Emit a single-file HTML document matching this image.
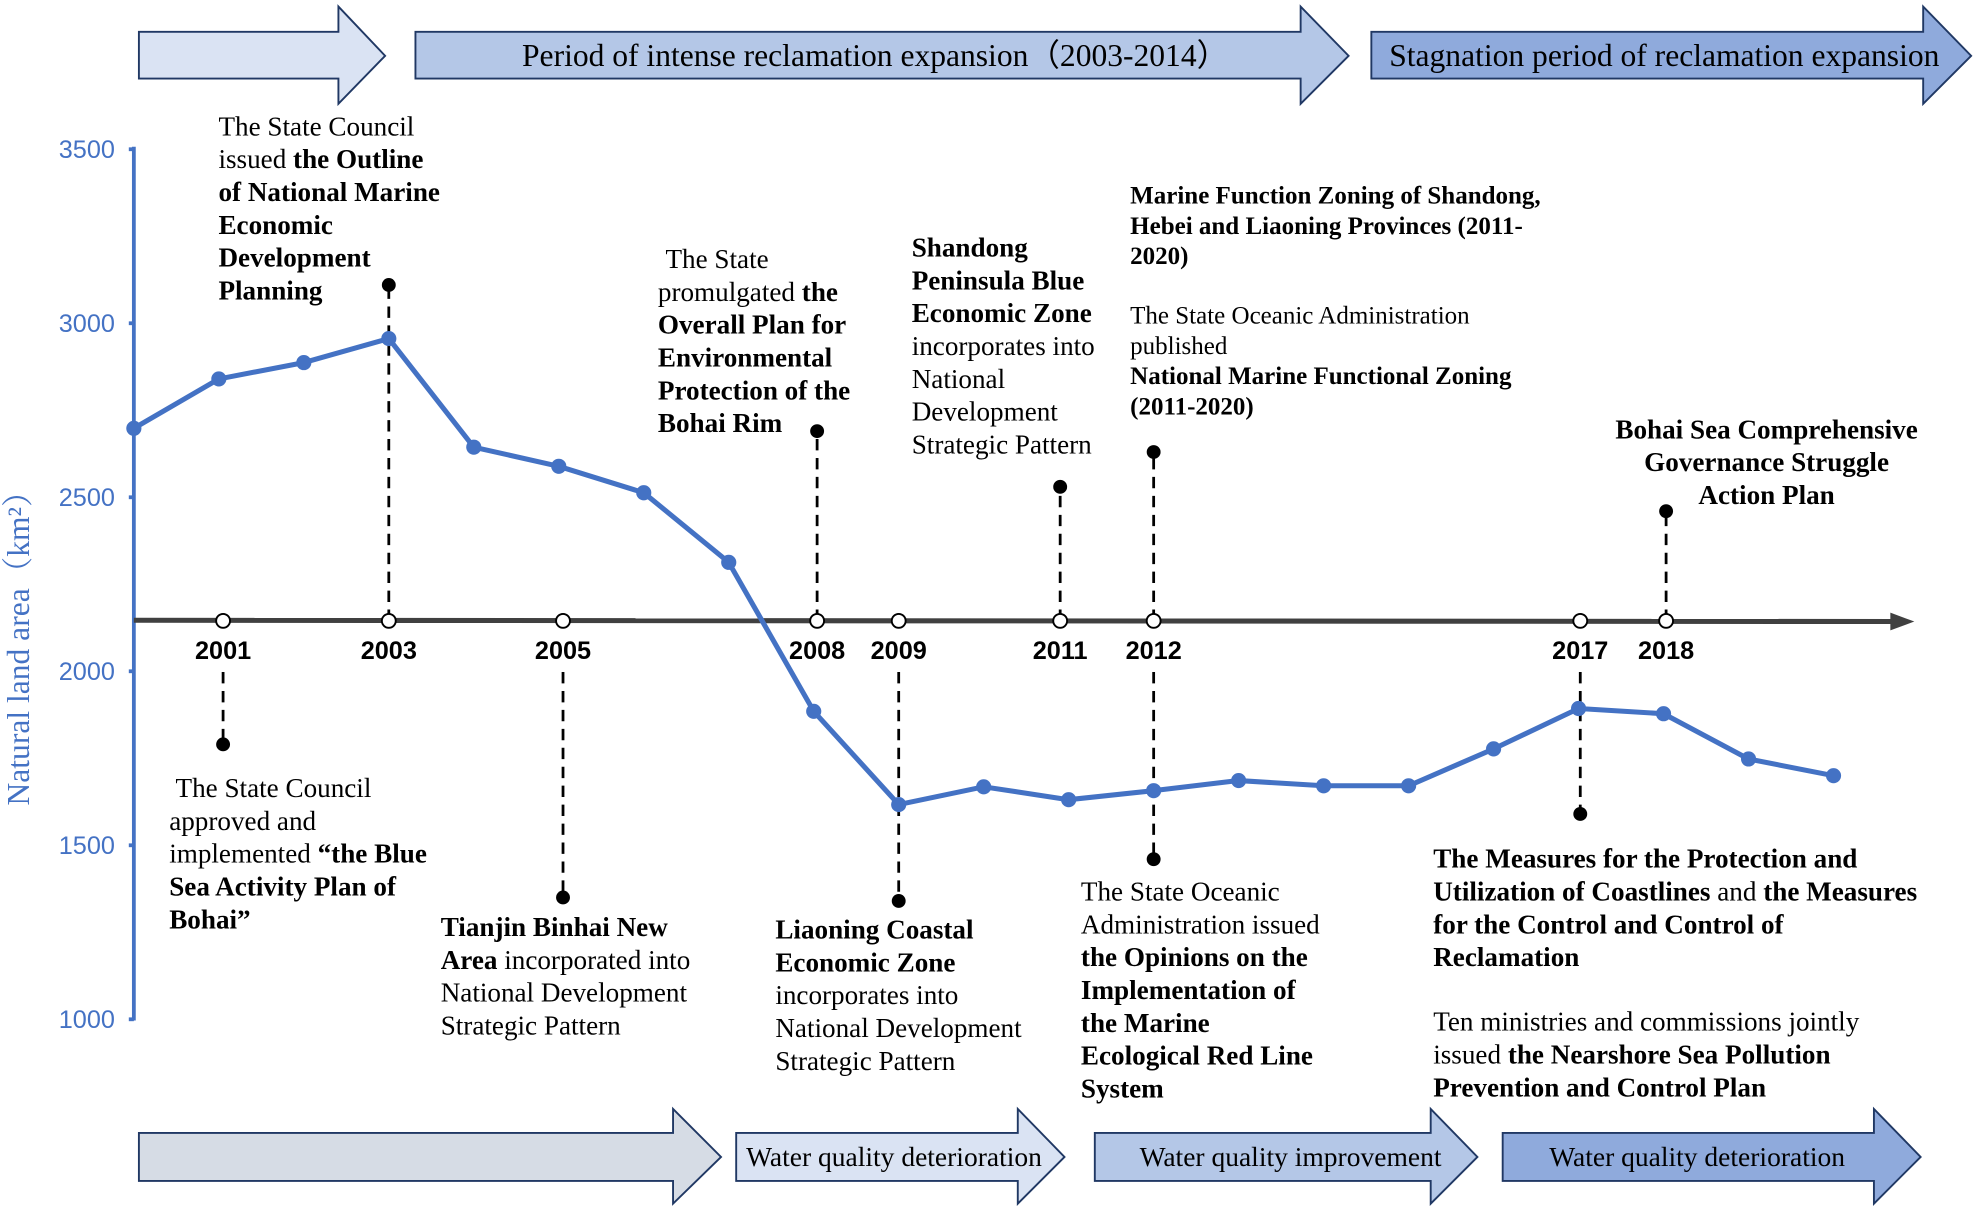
<!DOCTYPE html>
<html><head><meta charset="utf-8"><style>
html,body{margin:0;padding:0;background:#fff}
svg{display:block}
.t{font-family:"Liberation Serif",serif;font-size:21.5px;fill:#000}
.b{font-weight:bold}
.yr{font-family:"Liberation Sans",sans-serif;font-size:20px;font-weight:bold;fill:#000;text-anchor:middle}
.yt{font-family:"Liberation Sans",sans-serif;font-size:20px;fill:#4472c4;text-anchor:end}
.ar{font-family:"Liberation Serif",serif;font-size:25px;fill:#000;text-anchor:middle}
</style></head><body>
<svg id="chart" width="1980" height="1214" viewBox="0 0 1568 961" xmlns="http://www.w3.org/2000/svg">
<g stroke="#203864" stroke-width="1.5">
<path d="M110,25H268V5L305,44L268,82V62H110Z" fill="#dae3f3"/>
<path d="M329,25H1030V5L1068,44L1030,82V62H329Z" fill="#b4c7e7"/>
<path d="M1086,25H1523V5L1561,44L1523,82V62H1086Z" fill="#8faadc"/>
</g>
<text class="ar" x="693" y="52">Period of intense reclamation expansion（2003-2014）</text>
<text class="ar" x="1318" y="52">Stagnation period of reclamation expansion</text>
<g stroke="#203864" stroke-width="1.5">
<path d="M110,897H533V878L571,916L533,953V935H110Z" fill="#d6dce5"/>
<path d="M583,897H806V878L843,916L806,953V935H583Z" fill="#dae3f3"/>
<path d="M867,897H1133V878L1170,916L1133,953V935H867Z" fill="#b4c7e7"/>
<path d="M1190,897H1484V878L1521,916L1484,953V935H1190Z" fill="#8faadc"/>
</g>
<text class="ar" style="font-size:21.8px" x="708" y="923">Water quality deterioration</text>
<text class="ar" style="font-size:21.8px" x="1022" y="923">Water quality improvement</text>
<text class="ar" style="font-size:21.8px" x="1344" y="923">Water quality deterioration</text>

<g>
<line x1="106" y1="116" x2="106" y2="808" stroke="#4472c4" stroke-width="3"/>
<g id="yticks"></g>
<text transform="translate(23,507) rotate(-90)" text-anchor="middle" style="font-family:'Liberation Serif','Noto Serif CJK SC',serif;font-size:25px;fill:#4472c4">Natural land area（km²）</text>
</g>
<g id="timeline">
<line x1="106" y1="491" x2="1500" y2="492" stroke="#404040" stroke-width="4"/>
<path d="M1497,485L1516,492L1497,499Z" fill="#404040"/>
</g>
<g id="events"></g>
<g id="series"></g>

<g>
<text class="t"><tspan x="173" y="107">The State Council</tspan><tspan x="173" y="133">issued <tspan class="b">the Outline</tspan></tspan><tspan class="b" x="173" y="159">of National Marine</tspan><tspan class="b" x="173" y="185">Economic</tspan><tspan class="b" x="173" y="211">Development</tspan><tspan class="b" x="173" y="237">Planning</tspan></text>
<text class="t"><tspan x="527" y="212">The State</tspan><tspan x="521" y="238">promulgated <tspan class="b">the</tspan></tspan><tspan class="b" x="521" y="264">Overall Plan for</tspan><tspan class="b" x="521" y="290">Environmental</tspan><tspan class="b" x="521" y="316">Protection of the</tspan><tspan class="b" x="521" y="342">Bohai Rim</tspan></text>
<text class="t"><tspan class="b" x="722" y="203">Shandong</tspan><tspan class="b" x="722" y="229">Peninsula Blue</tspan><tspan class="b" x="722" y="255">Economic Zone</tspan><tspan x="722" y="281">incorporates into</tspan><tspan x="722" y="307">National</tspan><tspan x="722" y="333">Development</tspan><tspan x="722" y="359">Strategic Pattern</tspan></text>
<text class="t" style="font-size:19.8px"><tspan class="b" x="895" y="161">Marine Function Zoning of Shandong,</tspan><tspan class="b" x="895" y="185">Hebei and Liaoning Provinces (2011-</tspan><tspan class="b" x="895" y="209">2020)</tspan><tspan x="895" y="256">The State Oceanic Administration</tspan><tspan x="895" y="280">published</tspan><tspan class="b" x="895" y="304">National Marine Functional Zoning</tspan><tspan class="b" x="895" y="328">(2011-2020)</tspan></text>
<text class="t b" text-anchor="middle"><tspan x="1399" y="347">Bohai Sea Comprehensive</tspan><tspan x="1399" y="373">Governance Struggle</tspan><tspan x="1399" y="399">Action Plan</tspan></text>
<text class="t"><tspan x="139" y="631">The State Council</tspan><tspan x="134" y="657">approved and</tspan><tspan x="134" y="683">implemented <tspan class="b">“the Blue</tspan></tspan><tspan class="b" x="134" y="709">Sea Activity Plan of</tspan><tspan class="b" x="134" y="735">Bohai”</tspan></text>
<text class="t"><tspan class="b" x="349" y="741">Tianjin Binhai New</tspan><tspan x="349" y="767"><tspan class="b">Area</tspan> incorporated into</tspan><tspan x="349" y="793">National Development</tspan><tspan x="349" y="819">Strategic Pattern</tspan></text>
<text class="t"><tspan class="b" x="614" y="743">Liaoning Coastal</tspan><tspan class="b" x="614" y="769">Economic Zone</tspan><tspan x="614" y="795">incorporates into</tspan><tspan x="614" y="821">National Development</tspan><tspan x="614" y="847">Strategic Pattern</tspan></text>
<text class="t"><tspan x="856" y="713">The State Oceanic</tspan><tspan x="856" y="739">Administration issued</tspan><tspan class="b" x="856" y="765">the Opinions on the</tspan><tspan class="b" x="856" y="791">Implementation of</tspan><tspan class="b" x="856" y="817">the Marine</tspan><tspan class="b" x="856" y="843">Ecological Red Line</tspan><tspan class="b" x="856" y="869">System</tspan></text>
<text class="t"><tspan class="b" x="1135" y="687">The Measures for the Protection and</tspan><tspan x="1135" y="713"><tspan class="b">Utilization of Coastlines</tspan> and <tspan class="b">the Measures</tspan></tspan><tspan class="b" x="1135" y="739">for the Control and Control of</tspan><tspan class="b" x="1135" y="765">Reclamation</tspan><tspan x="1135" y="816">Ten ministries and commissions jointly</tspan><tspan x="1135" y="842">issued <tspan class="b">the Nearshore Sea Pollution</tspan></tspan><tspan class="b" x="1135" y="868">Prevention and Control Plan</tspan></text>
</g>
</svg>
<script>
const years=[2000,2001,2002,2003,2004,2005,2006,2007,2008,2009,2010,2011,2012,2013,2014,2015,2016,2017,2018,2019,2020];
const landArea=[2698,2840,2887,2956,2644,2589,2513,2313,1885,1617,1668,1631,1657,1686,1671,1671,1777,1893,1878,1748,1700];
const yTicks=[1000,1500,2000,2500,3000,3500];
const eventYears=[2001,2003,2005,2008,2009,2011,2012,2012,2017,2018];
const eventPos=[2001.05,2003,2005.05,2008.04,2009,2010.9,2012,2012,2017.02,2018.03];
const eventEnds=[1790,3110,1350,2690,1340,2530,2630,1460,1590,2460];
const NS='http://www.w3.org/2000/svg';
function xs(yr){return 106+(yr-2000)*67.3;}
function ys(v){return 807-(v-1000)*0.2756;}
const TL=491.5, BELOW=532;
function mk(t,a,p){const e=document.createElementNS(NS,t);for(const k in a)e.setAttribute(k,a[k]);p.appendChild(e);return e;}
const yt=document.getElementById('yticks');
yTicks.forEach(v=>{
 const l=mk('line',{x1:102,x2:106,y1:ys(v),y2:ys(v),stroke:'#4472c4','stroke-width':3},yt);
 
 
 const t=mk('text',{x:91,y:ys(v)+7,class:'yt'},yt);t.textContent=v;
 
 
});
const ev=document.getElementById('events');
eventYears.forEach((yr,i)=>{
 const x=xs(eventPos[i]),ye=ys(eventEnds[i]);
 const start=ye>TL?BELOW:TL;
 const l=mk('line',{x1:x,x2:x,y1:start,y2:ye,stroke:'#000','stroke-width':2.2,'stroke-dasharray':'9,6'},ev);
 
 
 const d=mk('circle',{cx:x,cy:ye,r:5.5,fill:'#000'},ev);
 
 
});
const seen={};
eventYears.forEach((yr,i)=>{
 if(seen[yr])return; seen[yr]=1;
 const x=xs(eventPos[i]);
 const c=mk('circle',{cx:x,cy:TL,r:5.5,fill:'#fff',stroke:'#000','stroke-width':1.5},ev);
 
 
 const t=mk('text',{x:x,y:TL+30,class:'yr'},ev);t.textContent=yr;
 
 
});
const s=document.getElementById('series');
const pl=mk('polyline',{points:years.map((y,i)=>xs(y)+','+ys(landArea[i])).join(' '),fill:'none',stroke:'#4472c4','stroke-width':4,'stroke-linejoin':'round'},s);


years.forEach((y,i)=>{
 const c=mk('circle',{cx:xs(y),cy:ys(landArea[i]),r:6,fill:'#4472c4'},s);
 
 
});
</script>
</body></html>
